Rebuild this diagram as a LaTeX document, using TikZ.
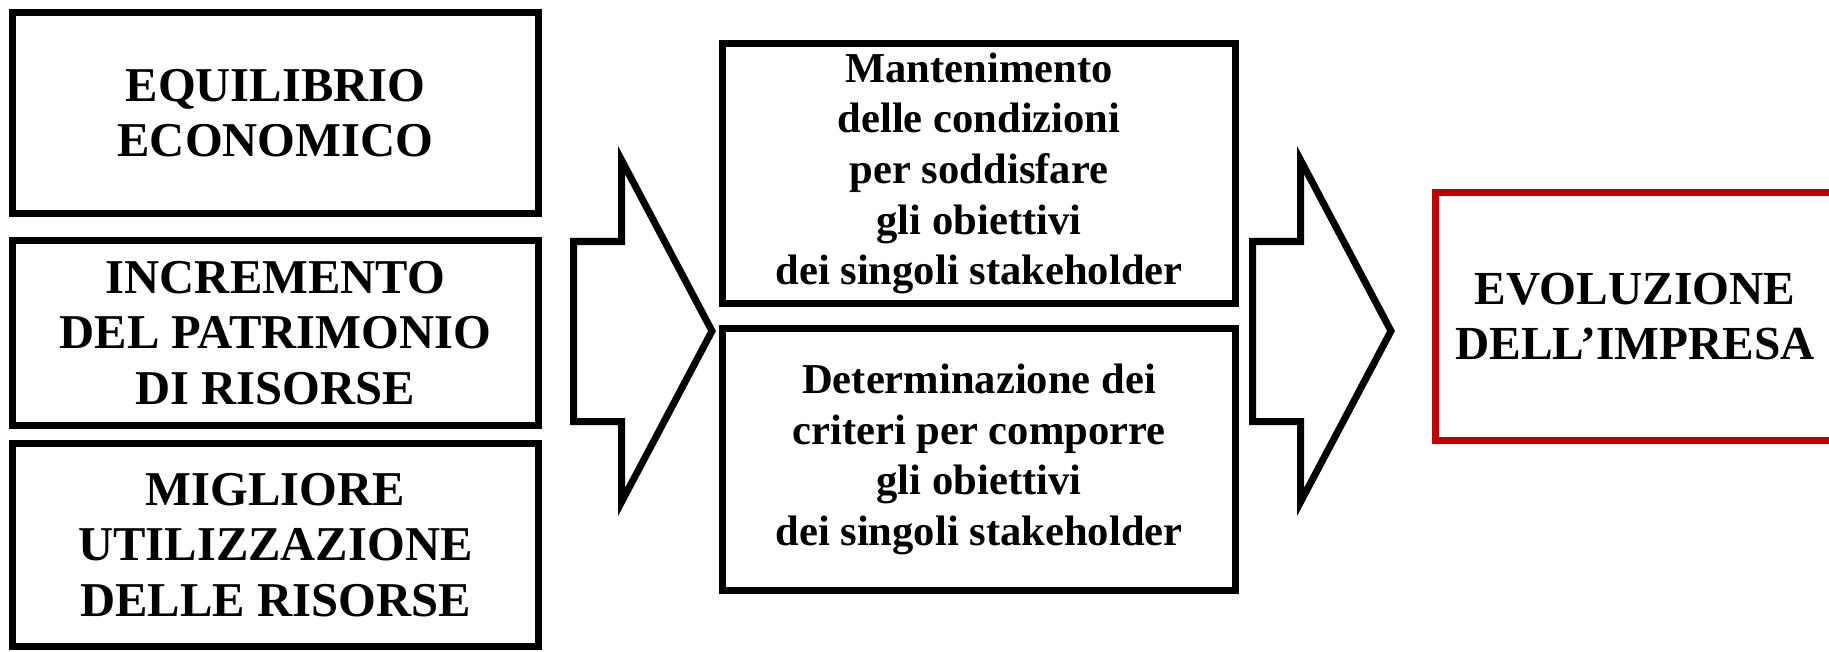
\documentclass[tikz,border=0pt]{standalone}
\usepackage{fontspec}
\setmainfont{Liberation Serif}
\definecolor{impresared}{HTML}{C00000}
\tikzset{
  goalbox/.style = {draw, line width = 3.5pt, align = center, inner sep = 0pt,
    minimum width = 263pt, font = \bfseries\fontsize{24.3}{27.7}\selectfont},
  condbox/.style = {draw, line width = 3.5pt, align = center, inner sep = 0pt,
    minimum width = 256.5pt, font = \bfseries\fontsize{21.3}{25.3}\selectfont},
  resultbox/.style = {draw = impresared, line width = 3.5pt, align = center, inner sep = 0pt,
    minimum width = 199.5pt, minimum height = 123.5pt,
    font = \bfseries\fontsize{23.7}{27.2}\selectfont},
  blockarrow/.style = {draw, line width = 3.5pt, fill = white}
}
\begin{document}
\begin{tikzpicture}[x = 0.5pt, y = -0.5pt]
  \useasboundingbox (0, 0) rectangle (1829, 652);
  % goals
  \node[goalbox, minimum height = 100.5pt] (equilibrio) at (275.5, 113)
    {EQUILIBRIO\\ECONOMICO};
  \node[goalbox, minimum height = 92.5pt] (incremento) at (275.5, 333)
    {INCREMENTO\\DEL PATRIMONIO\\DI RISORSE};
  \node[goalbox, minimum height = 101.5pt] (utilizzazione) at (275.5, 545)
    {MIGLIORE\\UTILIZZAZIONE\\DELLE RISORSE};
  % first arrow
  \draw[blockarrow] (573.5, 241.5) -- (621.5, 241.5) -- (621.5, 160)
    -- (712, 331) -- (621.5, 502) -- (621.5, 421.5) -- (573.5, 421.5) -- cycle;
  % conditions
  \node[condbox, minimum height = 130pt] (mantenimento) at (979, 173.5)
    {Mantenimento\\delle condizioni\\per soddisfare\\gli obiettivi\\dei singoli stakeholder};
  \node[condbox, minimum height = 131pt] (determinazione) at (979, 459.5)
    {Determinazione dei\\criteri per comporre\\gli obiettivi\\dei singoli stakeholder};
  % second arrow
  \draw[blockarrow, shift = {(679, 0)}] (573.5, 241.5) -- (621.5, 241.5) -- (621.5, 160)
    -- (712, 331) -- (621.5, 502) -- (621.5, 421.5) -- (573.5, 421.5) -- cycle;
  % result
  \node[resultbox] (evoluzione) at (1635, 316.5) {EVOLUZIONE\\DELL'IMPRESA};
\end{tikzpicture}
\end{document}
